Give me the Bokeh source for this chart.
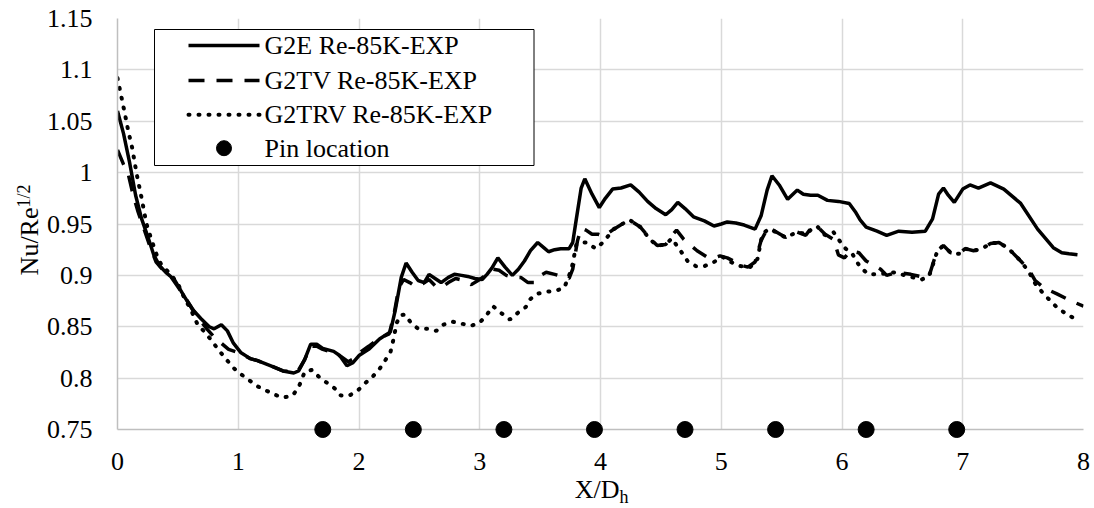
import math
from bokeh.plotting import figure
from bokeh.models import Range1d, FixedTicker, BoxAnnotation
from bokeh.core.properties import value
from bokeh.embed import file_html
from bokeh.resources import INLINE

FONT = value("Liberation Serif")

# ---------------- data ----------------
g2e_pts = [(0.00, 1.060), (0.05, 1.038), (0.10, 1.010), (0.15, 0.978), (0.20, 0.955),
           (0.25, 0.938), (0.30, 0.920), (0.35, 0.909), (0.40, 0.903), (0.47, 0.896),
           (0.55, 0.880), (0.62, 0.867), (0.69, 0.858), (0.76, 0.850), (0.80, 0.848),
           (0.86, 0.852), (0.91, 0.846), (0.96, 0.834), (1.02, 0.825), (1.10, 0.819),
           (1.16, 0.817), (1.27, 0.812), (1.37, 0.807), (1.46, 0.805), (1.50, 0.807),
           (1.55, 0.818), (1.60, 0.833), (1.65, 0.833), (1.70, 0.829), (1.79, 0.826),
           (1.84, 0.822), (1.90, 0.812), (1.95, 0.815), (2.00, 0.822), (2.08, 0.828),
           (2.17, 0.838), (2.26, 0.845), (2.30, 0.866), (2.35, 0.898), (2.39, 0.912),
           (2.44, 0.903), (2.49, 0.895), (2.54, 0.893), (2.58, 0.901), (2.63, 0.897),
           (2.68, 0.893), (2.74, 0.898), (2.79, 0.901), (2.85, 0.900), (2.90, 0.899),
           (2.96, 0.897), (3.02, 0.896), (3.06, 0.901), (3.10, 0.907), (3.15, 0.917),
           (3.21, 0.908), (3.27, 0.900), (3.32, 0.906), (3.37, 0.914), (3.42, 0.924),
           (3.48, 0.932), (3.53, 0.927), (3.57, 0.923), (3.62, 0.925), (3.67, 0.926),
           (3.74, 0.926), (3.77, 0.932), (3.80, 0.955), (3.84, 0.985), (3.87, 0.994),
           (3.93, 0.979), (3.99, 0.966), (4.04, 0.975), (4.10, 0.984), (4.17, 0.985),
           (4.25, 0.988), (4.32, 0.981), (4.39, 0.972), (4.46, 0.965), (4.54, 0.959),
           (4.59, 0.964), (4.64, 0.971), (4.70, 0.965), (4.77, 0.957), (4.86, 0.953),
           (4.94, 0.948), (5.00, 0.950), (5.05, 0.952), (5.12, 0.951), (5.19, 0.949),
           (5.28, 0.945), (5.33, 0.958), (5.38, 0.983), (5.42, 0.997), (5.48, 0.988),
           (5.55, 0.974), (5.63, 0.983), (5.68, 0.979), (5.74, 0.978), (5.80, 0.978),
           (5.88, 0.973), (5.97, 0.972), (6.06, 0.970), (6.11, 0.962), (6.15, 0.954),
           (6.20, 0.947), (6.29, 0.943), (6.37, 0.939), (6.47, 0.943), (6.58, 0.942),
           (6.69, 0.943), (6.75, 0.955), (6.80, 0.979), (6.84, 0.985), (6.88, 0.978),
           (6.93, 0.971), (7.00, 0.984), (7.06, 0.988), (7.13, 0.985), (7.23, 0.990),
           (7.34, 0.984), (7.48, 0.970), (7.62, 0.945), (7.75, 0.927), (7.82, 0.922),
           (7.88, 0.921), (7.95, 0.920)]

g2tv_pts = [(0.00, 1.022), (0.05, 1.008), (0.09, 0.998), (0.13, 0.978), (0.17, 0.962),
            (0.22, 0.945), (0.27, 0.928), (0.32, 0.913), (0.38, 0.905), (0.44, 0.899),
            (0.50, 0.889), (0.58, 0.875), (0.66, 0.860), (0.74, 0.848), (0.80, 0.840),
            (0.86, 0.834), (0.92, 0.828), (0.97, 0.826), (1.02, 0.824), (1.10, 0.819),
            (1.16, 0.817), (1.27, 0.812), (1.37, 0.807), (1.46, 0.806), (1.50, 0.808),
            (1.55, 0.818), (1.60, 0.831), (1.65, 0.831), (1.70, 0.828), (1.79, 0.825),
            (1.85, 0.821), (1.91, 0.816), (1.96, 0.819), (2.02, 0.826), (2.08, 0.831),
            (2.17, 0.839), (2.25, 0.843), (2.29, 0.862), (2.33, 0.888), (2.37, 0.896),
            (2.42, 0.893), (2.47, 0.889), (2.53, 0.892), (2.58, 0.896), (2.63, 0.890),
            (2.68, 0.888), (2.74, 0.893), (2.80, 0.897), (2.87, 0.895), (2.93, 0.891),
            (3.00, 0.896), (3.06, 0.901), (3.11, 0.906), (3.16, 0.905), (3.22, 0.900),
            (3.28, 0.898), (3.34, 0.898), (3.40, 0.893), (3.45, 0.893), (3.49, 0.899),
            (3.55, 0.903), (3.62, 0.901), (3.68, 0.899), (3.74, 0.897), (3.77, 0.906),
            (3.81, 0.934), (3.84, 0.946), (3.88, 0.944), (3.93, 0.940), (3.98, 0.940),
            (4.03, 0.938), (4.11, 0.945), (4.18, 0.950), (4.24, 0.954), (4.33, 0.947),
            (4.41, 0.936), (4.47, 0.929), (4.54, 0.930), (4.60, 0.940), (4.63, 0.944),
            (4.69, 0.935), (4.75, 0.929), (4.80, 0.924), (4.88, 0.918), (4.94, 0.917),
            (4.99, 0.919), (5.05, 0.917), (5.10, 0.914), (5.16, 0.910), (5.22, 0.908),
            (5.28, 0.913), (5.33, 0.934), (5.39, 0.947), (5.46, 0.942), (5.53, 0.937),
            (5.58, 0.940), (5.63, 0.942), (5.70, 0.939), (5.75, 0.947), (5.80, 0.947),
            (5.86, 0.940), (5.93, 0.935), (5.97, 0.920), (6.02, 0.917), (6.07, 0.924),
            (6.14, 0.922), (6.20, 0.914), (6.26, 0.910), (6.32, 0.906), (6.37, 0.900),
            (6.46, 0.903), (6.57, 0.901), (6.68, 0.898), (6.72, 0.899), (6.76, 0.914),
            (6.79, 0.924), (6.84, 0.929), (6.90, 0.922), (6.97, 0.921), (7.02, 0.926),
            (7.09, 0.924), (7.16, 0.926), (7.23, 0.931), (7.30, 0.932), (7.38, 0.926),
            (7.48, 0.914), (7.55, 0.905), (7.60, 0.895), (7.67, 0.888), (7.78, 0.882),
            (7.90, 0.875), (8.00, 0.870)]

g2trv_pts = [(0.00, 1.092), (0.03, 1.075), (0.06, 1.058), (0.09, 1.040), (0.12, 1.025),
             (0.16, 0.998), (0.20, 0.975), (0.24, 0.950), (0.28, 0.935), (0.33, 0.918),
             (0.36, 0.911), (0.44, 0.901), (0.50, 0.892), (0.55, 0.879), (0.61, 0.866),
             (0.66, 0.853), (0.72, 0.845), (0.77, 0.838), (0.84, 0.827), (0.91, 0.817),
             (0.96, 0.810), (1.02, 0.804), (1.09, 0.798), (1.16, 0.792), (1.23, 0.788),
             (1.30, 0.784), (1.37, 0.781), (1.45, 0.783), (1.50, 0.791), (1.55, 0.806),
             (1.61, 0.808), (1.67, 0.801), (1.74, 0.795), (1.81, 0.789), (1.85, 0.783),
             (1.92, 0.783), (1.99, 0.788), (2.05, 0.795), (2.11, 0.801), (2.17, 0.809),
             (2.21, 0.816), (2.26, 0.825), (2.29, 0.840), (2.31, 0.853), (2.34, 0.861),
             (2.38, 0.862), (2.43, 0.854), (2.49, 0.848), (2.57, 0.848), (2.64, 0.846),
             (2.70, 0.852), (2.77, 0.855), (2.85, 0.853), (2.93, 0.851), (3.00, 0.854),
             (3.06, 0.862), (3.11, 0.870), (3.17, 0.864), (3.25, 0.857), (3.32, 0.864),
             (3.38, 0.869), (3.42, 0.877), (3.47, 0.882), (3.55, 0.884), (3.63, 0.885),
             (3.70, 0.888), (3.76, 0.906), (3.80, 0.930), (3.85, 0.932), (3.89, 0.932),
             (3.96, 0.926), (4.02, 0.932), (4.11, 0.945), (4.18, 0.950), (4.24, 0.954),
             (4.33, 0.947), (4.41, 0.935), (4.47, 0.929), (4.54, 0.930), (4.59, 0.936),
             (4.68, 0.921), (4.72, 0.914), (4.79, 0.909), (4.86, 0.909), (4.94, 0.913),
             (5.01, 0.918), (5.08, 0.913), (5.16, 0.909), (5.24, 0.908), (5.30, 0.916),
             (5.34, 0.940), (5.39, 0.945), (5.46, 0.942), (5.53, 0.937), (5.63, 0.942),
             (5.71, 0.940), (5.76, 0.947), (5.80, 0.947), (5.86, 0.939), (5.93, 0.942),
             (5.99, 0.932), (6.03, 0.926), (6.08, 0.922), (6.15, 0.908), (6.22, 0.901),
             (6.29, 0.901), (6.37, 0.902), (6.44, 0.903), (6.52, 0.900), (6.59, 0.898),
             (6.66, 0.896), (6.72, 0.899), (6.76, 0.913), (6.79, 0.924), (6.84, 0.929),
             (6.90, 0.922), (6.97, 0.921), (7.02, 0.926), (7.09, 0.924), (7.16, 0.926),
             (7.23, 0.931), (7.30, 0.932), (7.38, 0.926), (7.48, 0.914), (7.55, 0.903),
             (7.60, 0.892), (7.67, 0.882), (7.77, 0.870), (7.85, 0.863), (7.94, 0.857)]

pin_x = [1.70, 2.45, 3.20, 3.95, 4.70, 5.45, 6.20, 6.95]
pin_y = [0.75, 0.75, 0.75, 0.75, 0.75, 0.75, 0.75, 0.75]

series_labels = ["G2E Re-85K-EXP", "G2TV Re-85K-EXP", "G2TRV Re-85K-EXP", "Pin location"]

x_ticks = [0, 1, 2, 3, 4, 5, 6, 7, 8]
x_tick_labels = ["0", "1", "2", "3", "4", "5", "6", "7", "8"]
y_ticks = [0.75, 0.8, 0.85, 0.9, 0.95, 1.0, 1.05, 1.1, 1.15]
y_tick_labels = ["0.75", "0.8", "0.85", "0.9", "0.95", "1", "1.05", "1.1", "1.15"]

g2e_x = [a for a, b in g2e_pts]
g2e_y = [b for a, b in g2e_pts]
g2tv_x = [a for a, b in g2tv_pts]
g2tv_y = [b for a, b in g2tv_pts]
g2trv_x = [a for a, b in g2trv_pts]
g2trv_y = [b for a, b in g2trv_pts]

# ---------------- layout geometry (pixels) ----------------
W, H = 1094, 508
FL, FR, FT, FB = 117, 1083, 18, 429          # frame edges
X0, X1, Y0, Y1 = 0, 8, 0.75, 1.15


def sx(px):   # canvas pixel -> data x (for things placed around the frame)
    return X0 + (px - FL) * (X1 - X0) / (FR - FL)


def sy(py):   # canvas pixel -> data y
    return Y0 + (FB - py) * (Y1 - Y0) / (FB - FT)


p = figure(width=W, height=H, output_backend="svg", toolbar_location=None,
           x_range=Range1d(X0, X1), y_range=Range1d(Y0, Y1),
           min_border_left=FL, min_border_right=W - FR, min_border_top=FT,
           min_border_bottom=H - FB)
p.outline_line_color = None
p.background_fill_color = "white"
p.border_fill_color = "white"

# axes: lines only; labels are drawn as text below
for ax in (p.xaxis, p.yaxis):
    ax.ticker = FixedTicker(ticks=[])
    ax.major_tick_in = 0
    ax.major_tick_out = 0
    ax.minor_tick_in = 0
    ax.minor_tick_out = 0
    ax.axis_line_color = "#bfbfbf"
    ax.axis_line_width = 1.5
p.xgrid.ticker = FixedTicker(ticks=x_ticks)
p.ygrid.ticker = FixedTicker(ticks=y_ticks)
p.grid.grid_line_color = "#d9d9d9"
p.grid.grid_line_width = 1.5

SOLID = dict(line_color="black", line_width=3.5)
DASH = dict(line_color="black", line_width=3.5, line_dash="16 12")
DOT = dict(line_color="black", line_width=4, line_dash="1 9", line_cap="round")

r1 = p.line(g2e_x, g2e_y, **SOLID)
r2 = p.line(g2tv_x, g2tv_y, **DASH)
r3 = p.line(g2trv_x, g2trv_y, **DOT)
r4 = p.scatter(pin_x, pin_y, size=16, color="black")
r4.level = "overlay"

overlay = []
TXT = dict(text_font=FONT, text_color="black", text_baseline="middle")

# tick labels
overlay.append(p.text(x=x_ticks, y=[sy(460.5)] * len(x_ticks), text=x_tick_labels,
                      text_align="center", text_font_size="26px", **TXT))
overlay.append(p.text(x=[sx(92)] * len(y_ticks), y=y_ticks, text=y_tick_labels,
                      text_align="right", text_font_size="26px", **TXT))

# legend
box = BoxAnnotation(left=sx(154), right=sx(533.5), bottom=sy(165), top=sy(29),
                    fill_color="white", fill_alpha=1.0,
                    line_color="black", line_alpha=1.0, line_width=1)
p.add_layout(box)
rows = [sy(45), sy(80), sy(114.3), sy(147.7)]
for row, style in zip(rows[:3], (SOLID, DASH, DOT)):
    overlay.append(p.line([sx(188), sx(259)], [row, row], **style))
overlay.append(p.scatter([sx(223.5)], [rows[3]], size=15, color="black"))
overlay.append(p.text(x=[sx(264)] * 4, y=rows, text=series_labels,
                      text_align="left", text_font_size="26px", **TXT))

# axis titles with super/subscripts
overlay.append(p.text(x=[sx(28.5)], y=[sy(207)], text=["Nu/Re"], angle=math.pi / 2,
                      text_align="right", text_font_size="26px", **TXT))
overlay.append(p.text(x=[sx(23)], y=[sy(207)], text=["1/2"], angle=math.pi / 2,
                      text_align="left", text_font_size="18px", **TXT))
overlay.append(p.text(x=[sx(619)], y=[sy(489)], text=["X/D"],
                      text_align="right", text_font_size="26px", **TXT))
overlay.append(p.text(x=[sx(619)], y=[sy(496)], text=["h"],
                      text_align="left", text_font_size="18px", **TXT))
for r in overlay:
    r.level = "overlay"

open("out.html", "w").write(file_html(p, INLINE))
